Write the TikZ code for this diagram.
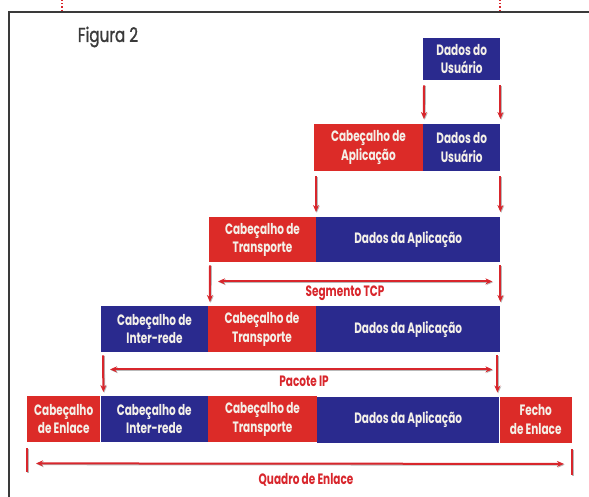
\documentclass[tikz,border=0pt]{standalone}
\usepackage{fontspec}
\setmainfont{Poppins}[FakeStretch=0.70]
\newfontfamily\figfont{Poppins}[FakeStretch=0.76, FakeBold=1.3]
\usetikzlibrary{arrows.meta}
\definecolor{boxred}{HTML}{DC2B28}
\definecolor{boxblue}{HTML}{2A2A8E}
\definecolor{txtw}{HTML}{F4F0E8}
\definecolor{arrred}{HTML}{D8262C}
\definecolor{framec}{HTML}{3A3A3A}
\tikzset{
  pbox/.style={anchor=north west, inner sep=0pt, align=center, text=txtw,
    font=\fontsize{15}{18.5}\selectfont\bfseries},
  redbox/.style={pbox, fill=boxred},
  bluebox/.style={pbox, fill=boxblue},
  sz/.style n args={2}{minimum width=#1pt, minimum height=#2pt},
  arr/.style={draw=arrred, line width=2pt,
    preaction={draw=gray!55, line width=2pt, transform canvas={shift={(0.8pt,-0.8pt)}}}},
  varr/.style={arr, -{Stealth[length=7pt,width=6pt]}},
  harr/.style={arr, {Stealth[length=7pt,width=6pt]}-{Stealth[length=7pt,width=6pt]}},
  lbl/.style={text=arrred, font=\fontsize{15}{17}\selectfont\bfseries, inner sep=0pt},
}
\begin{document}
\begin{tikzpicture}[x=1pt,y=-1pt]
\useasboundingbox (0,0) rectangle (589,497);
% frame
\draw[framec, line width=2pt] (589,12) -- (9,12) -- (9,497);
\draw[arrred, line width=1.2pt, dotted] (62,0) -- (62,10);
\draw[arrred, line width=1.2pt, dotted] (500,0) -- (500,10);
\node[text=framec, font=\figfont\fontsize{20}{22}\selectfont, inner sep=0pt] (fig) at (108,37) {Figura 2};
% row 1
\node[bluebox, sz={77}{42}] (u1) at (423,38) {Dados do\\Usuário};
% row 2
\node[redbox, sz={108.5}{47}] (a2) at (314,124) {Cabeçalho de\\Aplicação};
\node[bluebox, sz={77}{47}] (u2) at (423,124) {Dados do\\Usuário};
% row 3
\node[redbox, sz={106.5}{45}] (t3) at (209,217) {Cabeçalho de\\Transporte};
\node[bluebox, sz={184}{45}] (d3) at (316,217) {Dados da Aplicação};
% row 4
\node[bluebox, sz={106.5}{46}] (i4) at (101,306) {Cabeçalho de\\Inter-rede};
\node[redbox, sz={107.5}{46}] (t4) at (208,306) {Cabeçalho de\\Transporte};
\node[bluebox, sz={184}{46}] (d4) at (316,306) {Dados da Aplicação};
% row 5
\node[redbox, sz={73}{46}] (e5) at (27,396) {Cabeçalho\\de Enlace};
\node[bluebox, sz={107}{46}] (i5) at (100.5,396) {Cabeçalho de\\Inter-rede};
\node[redbox, sz={108.5}{46}] (t5) at (208,396) {Cabeçalho de\\Transporte};
\node[bluebox, sz={182}{46}] (d5) at (317,396.5) {Dados da Aplicação};
\node[redbox, sz={72}{46}] (f5) at (499.5,396.5) {Fecho\\de Enlace};
% arrows row1 -> row2
\draw[varr] ([xshift=1pt,yshift=-5pt]u1.south west) -- ([xshift=1pt,yshift=5pt]a2.north east);
\draw[varr] ([xshift=0pt,yshift=-5pt]u1.south east) -- ([yshift=5pt]u2.north east);
% row2 -> row3
\draw[varr] ([xshift=2pt,yshift=-5pt]a2.south west) -- ([xshift=0pt,yshift=5pt]d3.north west);
\draw[varr] ([yshift=-5pt]u2.south east) -- ([yshift=5pt]d3.north east);
% row3 -> row4
\draw[varr] ([xshift=1pt,yshift=-3pt]t3.south west) -- ([xshift=2pt,yshift=4pt]i4.north east);
\draw[varr] ([yshift=-3pt]d3.south east) -- ([yshift=4pt]d4.north east);
\coordinate (s1) at ([xshift=9pt,yshift=-19pt]t3.south west);
\coordinate (s2) at ([xshift=-8pt,yshift=-19pt]d3.south east);
\draw[harr] (s1) -- (s2);
\node[lbl] (seg) at (345,293) {Segmento TCP};
% row4 -> row5
\draw[varr] ([xshift=2pt,yshift=-3pt]i4.south west) -- ([xshift=3pt,yshift=4pt]e5.north east);
\draw[varr] ([xshift=-3pt,yshift=-3pt]d4.south east) -- ([xshift=-2pt,yshift=4pt]d5.north east);
\coordinate (p1) at ([xshift=9pt,yshift=-17pt]i4.south west);
\coordinate (p2) at ([xshift=-8pt,yshift=-17pt]d4.south east);
\draw[harr] (p1) -- (p2);
\node[lbl] (pac) at (304,381) {Pacote IP};
% bottom
\coordinate (q1a) at ([yshift=-6pt]e5.south west);
\coordinate (q1b) at ([yshift=-30pt]e5.south west);
\coordinate (q2a) at ([yshift=-6pt]f5.south east);
\coordinate (q2b) at ([yshift=-32pt]f5.south east);
\draw[arr] (q1a) -- (q1b);
\draw[arr] (q2a) -- (q2b);
\coordinate (h1) at ([xshift=9pt,yshift=-21pt]e5.south west);
\coordinate (h2) at ([xshift=-8pt,yshift=-21pt]f5.south east);
\draw[harr] (h1) -- (h2);
\node[lbl] (qua) at (306,480) {Quadro de Enlace};
\end{tikzpicture}
\end{document}
